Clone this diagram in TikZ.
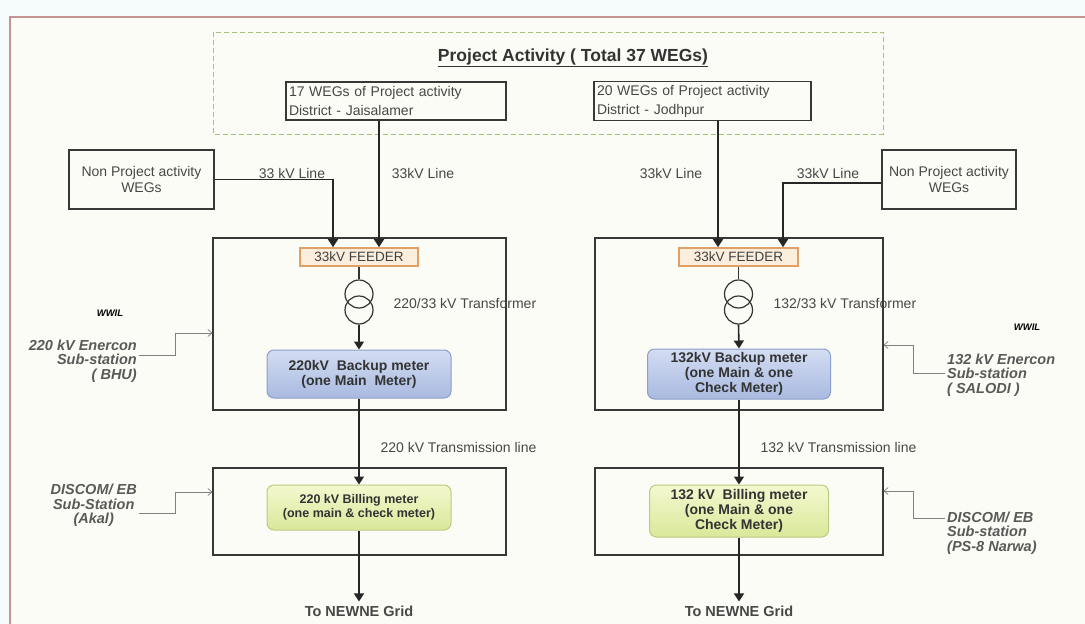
\documentclass[tikz,border=0pt]{standalone}
\usepackage{fontspec}
\setmainfont{Liberation Sans}
\usetikzlibrary{arrows.meta,positioning}
\definecolor{framepink}{HTML}{C79494}
\definecolor{pagebg}{HTML}{F6FBFB}
\definecolor{innerbg}{HTML}{FCFCF6}
\definecolor{dashgreen}{HTML}{A3C47A}
\definecolor{feedline}{HTML}{E0A068}
\definecolor{feedfill}{HTML}{FCEEDD}
\definecolor{metertop}{HTML}{D3DDF2}
\definecolor{meterbot}{HTML}{A9BAE0}
\definecolor{meterline}{HTML}{8C9FCB}
\definecolor{billtop}{HTML}{F4F8CF}
\definecolor{billbot}{HTML}{D9E89A}
\definecolor{billline}{HTML}{B9CB80}
\begin{document}
\begin{tikzpicture}[x=1pt,y=-1pt,
  lbl/.style={font=\fontsize{14}{16}\selectfont, text=black!72},
  box/.style={draw=black!78, line width=1.2pt, fill=innerbg},
  wegbox/.style={box, lbl, align=left, inner xsep=3pt, minimum height=38pt,
    font=\fontsize{14}{19}\selectfont},
  npbox/.style={box, lbl, align=center, minimum height=59pt},
  subbox/.style={draw=black!78, line width=1.2pt},
  feeder/.style={draw=feedline, fill=feedfill, line width=1.6pt, minimum height=18pt,
    inner sep=0pt, font=\fontsize{13.5}{14}\selectfont, text=black!75},
  trafo/.style={circle, draw=black!80, line width=1.2pt, minimum size=28pt, inner sep=0pt},
  meter/.style={rounded corners=7pt, draw=meterline, line width=1pt,
    top color=metertop, bottom color=meterbot, align=center, inner sep=0pt,
    font=\bfseries\fontsize{14}{15}\selectfont, text=black!80},
  billing/.style={meter, draw=billline, top color=billtop, bottom color=billbot},
  sidelbl/.style={font=\bfseries\itshape\fontsize{14.5}{14.5}\selectfont, text=black!65, inner sep=2pt},
  wwil/.style={font=\bfseries\itshape\fontsize{9.5}{11}\selectfont},
  mainarr/.style={line width=1.6pt, draw=black!85, -{Triangle[width=10pt,length=8pt]}},
  sidearr/.style={line width=0.7pt, draw=black!50, -{Straight Barb[length=4pt,width=7pt]}}]
  % page, background and frame
  \useasboundingbox (0,0) rectangle (1085,624);
  \fill[pagebg] (0,0) rectangle (1085,624);
  \fill[innerbg] (10,17) rectangle (1085,624);
  \draw[framepink, line width=2pt] (10,624) -- (10,17) -- (1085,17);
  % project activity group
  \draw[dashgreen, dashed, line width=1pt, dash pattern=on 5pt off 3pt] (213,32) rectangle (883,134);
  \node[font=\bfseries\fontsize{17.5}{19}\selectfont, text=black!80] (title) at (573,58)
    {\underline{Project Activity ( Total 37 WEGs)}};
  \node[wegbox, text width=214pt] (wegL) at (396,101)
    {17 WEGs of Project activity\\District - Jaisalamer};
  \node[wegbox, text width=211pt] (wegR) at (702.5,101)
    {20 WEGs of Project activity\\District - Jodhpur};
  % non project WEGs
  \node[npbox, minimum width=145pt] (npL) at (141.5,179.5) {Non Project activity\\WEGs};
  \node[npbox, minimum width=134pt] (npR) at (949,179.5) {Non Project activity\\WEGs};
  % sub-station boxes
  \node[subbox, minimum width=293pt, minimum height=172pt] (subL) at (359.5,324) {};
  \node[subbox, minimum width=288pt, minimum height=172pt] (subR) at (739,324) {};
  \node[subbox, minimum width=293pt, minimum height=87pt] (disL) at (359.5,511.5) {};
  \node[subbox, minimum width=288pt, minimum height=87pt] (disR) at (739,511.5) {};
  % feeders
  \node[feeder, minimum width=118pt] (feedL) at (359,257) {33kV FEEDER};
  \node[feeder, minimum width=119pt] (feedR) at (738.5,257) {33kV FEEDER};
  \coordinate (inL1) at ([xshift=-26pt]feedL.north);
  \coordinate (inL2) at ([xshift=20pt]feedL.north);
  \coordinate (inR1) at ([xshift=-20.5pt]feedR.north);
  \coordinate (inR2) at ([xshift=44.5pt]feedR.north);
  % 33 kV lines
  \draw[mainarr] (npL.east) -| (inL1);
  \draw[mainarr] (wegL.south -| inL2) -- (inL2);
  \draw[mainarr] (wegR.south -| inR1) -- (inR1);
  \draw[mainarr] ([yshift=-3.5pt]npR.west) -| (inR2);
  \node[lbl] (lineL1) at (292,173) {33 kV Line};
  \node[lbl] (lineL2) at (423,173) {33kV Line};
  \node[lbl] (lineR1) at (671,173) {33kV Line};
  \node[lbl] (lineR2) at (828,173) {33kV Line};
  % transformers
  \node[trafo] (tLa) at (359,294) {};
  \node[trafo] (tLb) at (359,310) {};
  \node[trafo] (tRa) at (738.5,294) {};
  \node[trafo] (tRb) at (738.5,310) {};
  \draw[line width=1.2pt, black!80] (feedL.south) -- (tLa.north);
  \draw[line width=1.2pt, black!80] (feedR.south) -- (tRa.north);
  \node[lbl, anchor=west] (tLlbl) at (390,303) {220/33 kV Transformer};
  \node[lbl, anchor=west] (tRlbl) at (770,303) {132/33 kV Transformer};
  % backup meters
  \node[meter, minimum width=184pt, minimum height=48pt] (backL) at (359,374)
    {220kV\ \ Backup meter\\(one Main\ \ Meter)};
  \node[meter, minimum width=183pt, minimum height=50pt] (backR) at (739,374)
    {132kV Backup meter\\(one Main \& one\\Check Meter)};
  \draw[mainarr] (tLb.south) -- (backL.north);
  \draw[mainarr] (tRb.south) -- (backR.north);
  % billing meters
  \node[billing, minimum width=184pt, minimum height=45pt,
    font=\bfseries\fontsize{12.5}{14}\selectfont] (billL) at (359,507.5)
    {220 kV Billing meter\\(one main \& check meter)};
  \node[billing, minimum width=179pt, minimum height=52pt] (billR) at (739,511)
    {132 kV\ \ Billing meter\\(one Main \& one\\Check Meter)};
  \draw[mainarr] (backL.south) -- (billL.north);
  \draw[mainarr] (backR.south) -- (billR.north);
  \node[lbl, anchor=west] (trL) at (377,447) {220 kV Transmission line};
  \node[lbl, anchor=west] (trR) at (757,447) {132 kV Transmission line};
  % to grid
  \node[lbl, font=\bfseries\fontsize{14.5}{15}\selectfont, inner sep=1pt] (gridL) at (359,611) {To NEWNE Grid};
  \node[lbl, font=\bfseries\fontsize{14.5}{15}\selectfont, inner sep=1pt] (gridR) at (739,611) {To NEWNE Grid};
  \draw[mainarr] (billL.south) -- ([yshift=3pt]gridL.north);
  \draw[mainarr] (billR.south) -- ([yshift=3pt]gridR.north);
  % side labels
  \node[wwil] (wwilL) at (110,313) {WWIL};
  \node[wwil] (wwilR) at (1027,327) {WWIL};
  \node[sidelbl, align=right, anchor=east] (bhu) at (139,361)
    {220 kV Enercon\\Sub-station\\( BHU)};
  \node[sidelbl, align=center, anchor=east] (akal) at (139,505.5)
    {DISCOM/ EB\\Sub-Station\\(Akal)};
  \node[sidelbl, align=left, anchor=west] (salodi) at (945,375)
    {132 kV Enercon\\Sub-station\\( SALODI )};
  \node[sidelbl, align=left, anchor=west] (narwa) at (945,533)
    {DISCOM/ EB\\Sub-station\\(PS-8 Narwa)};
  \draw[sidearr] ([yshift=6pt]bhu.east) -- ++(36,0) |- ([yshift=-9pt]subL.west);
  \draw[sidearr] ([yshift=-7.5pt]akal.east) -- ++(36,0) |- ([yshift=19.5pt]disL.west);
  \draw[sidearr] ([yshift=2pt]salodi.west) -- ++(-32,0) |- ([yshift=-21pt]subR.east);
  \draw[sidearr] ([yshift=15pt]narwa.west) -- ++(-32,0) |- ([yshift=20.5pt]disR.east);
\end{tikzpicture}
\end{document}
